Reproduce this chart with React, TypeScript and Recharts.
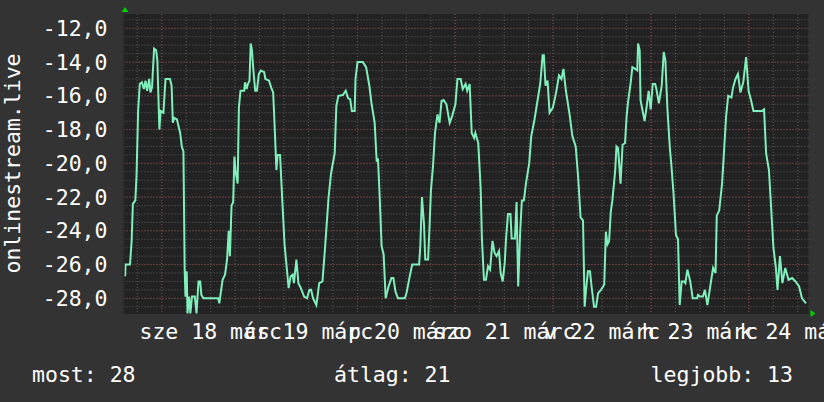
import React from 'react';
import { LineChart, Line, XAxis, YAxis, CartesianGrid, ReferenceDot } from 'recharts';

// hours since the start of the 7-day window, and the rank (stored negative so #1 is on top)
const hours = [
  0.4, 0.5, 1.6, 2.0, 2.3, 2.9, 3.2, 3.6, 4.0, 4.5,
  5.0, 5.4, 5.8, 6.3, 6.6, 7.0, 7.5, 8.0, 8.3, 8.8,
  9.1, 9.8, 10.3, 11.4, 11.8, 12.1, 12.4, 13.1, 13.9, 14.3,
  14.7, 15.0, 15.2, 15.5, 15.7, 16.1, 16.4, 16.8, 17.5, 17.9,
  18.4, 18.8, 19.1, 19.6, 23.2, 23.5, 24.3, 24.9, 25.4, 25.8,
  26.1, 26.5, 26.9, 27.2, 27.5, 28.0, 28.3, 28.7, 29.6, 29.8,
  30.2, 30.5, 30.9, 31.2, 31.5, 31.9, 32.3, 32.7, 33.2, 33.7,
  34.5, 34.8, 35.7, 36.2, 36.7, 37.0, 37.5, 37.8, 38.4, 38.9,
  39.5, 40.0, 40.5, 41.0, 41.5, 41.8, 42.4, 42.9, 43.5, 44.3,
  45.0, 45.6, 46.0, 46.5, 47.3, 48.0, 48.8, 49.4, 50.3, 50.9,
  51.8, 52.2, 52.7, 53.8, 54.5, 55.1, 55.6, 56.0, 56.7, 56.9,
  57.4, 58.7, 59.5, 60.3, 60.8, 61.6, 62.1, 62.4, 62.8, 63.3,
  63.8, 64.3, 65.0, 65.7, 66.2, 66.7, 67.3, 69.0, 69.4, 70.2,
  70.8, 72.5, 72.8, 73.2, 73.7, 74.0, 74.7, 75.1, 75.4, 75.9,
  76.4, 77.0, 77.5, 78.0, 78.5, 79.2, 80.0, 80.6, 81.4, 81.9,
  82.7, 83.2, 83.9, 84.3, 84.9, 85.4, 86.0, 86.3, 87.0, 87.6,
  87.9, 88.4, 88.9, 89.4, 89.9, 90.5, 91.0, 91.5, 92.1, 92.5,
  93.0, 93.5, 93.8, 94.3, 94.9, 95.2, 96.0, 96.4, 96.8, 97.3,
  97.7, 98.2, 98.7, 99.5, 100.0, 100.8, 101.4, 102.2, 102.8, 103.1,
  103.5, 104.0, 104.5, 105.3, 106.1, 106.8, 107.4, 107.9, 108.5, 109.4,
  110.1, 110.9, 111.5, 112.1, 112.7, 113.1, 113.4, 113.9, 114.4, 114.8,
  115.4, 115.9, 116.4, 117.1, 117.9, 118.3, 118.7, 119.1, 119.5, 119.9,
  120.6, 120.9, 121.3, 121.9, 122.4, 123.0, 123.4, 123.7, 124.4, 124.8,
  125.5, 126.0, 126.2, 126.6, 126.8, 127.4, 127.8, 128.3, 128.8, 129.3,
  129.8, 130.4, 130.7, 131.3, 132.0, 132.5, 132.9, 133.4, 134.0, 134.4,
  134.9, 135.5, 136.0, 136.4, 136.9, 137.5, 137.8, 138.3, 139.0, 139.6,
  140.7, 140.9, 141.4, 142.1, 142.6, 143.2, 143.9, 144.6, 145.2, 145.5,
  146.1, 146.8, 147.2, 147.8, 148.3, 149.1, 149.5, 150.1, 150.7, 151.3,
  152.0, 152.7, 153.3, 153.9, 154.5, 156.6, 157.1, 157.6, 158.3, 158.9,
  159.4, 160.0, 160.4, 161.0, 161.6, 162.3, 163.1, 164.0, 164.8, 165.7,
  166.4, 167.4,
];

const ranks = [
  -26.7, -26.0, -26.0, -24.6, -22.4, -22.2, -20.7, -16.8, -15.3, -15.2,
  -15.6, -15.1, -15.7, -15.0, -15.8, -15.5, -13.2, -13.3, -13.9, -18.0,
  -16.9, -17.0, -15.0, -15.0, -15.4, -17.6, -17.3, -17.4, -18.2, -19.0,
  -19.3, -26.3, -27.9, -26.4, -28.9, -27.9, -28.9, -27.9, -27.9, -28.9,
  -27.0, -27.0, -27.8, -28.0, -28.0, -28.3, -26.9, -26.6, -25.7, -24.0,
  -25.5, -22.5, -22.3, -19.6, -20.5, -21.2, -16.7, -15.7, -15.7, -15.2,
  -15.6, -15.3, -15.1, -12.9, -13.3, -14.6, -15.7, -15.7, -14.7, -14.5,
  -14.6, -15.0, -15.1, -15.5, -15.8, -17.4, -20.4, -19.5, -19.5, -22.0,
  -24.8, -26.1, -27.4, -26.7, -26.6, -27.1, -25.7, -27.1, -27.4, -27.9,
  -28.0, -27.5, -27.5, -28.0, -28.4, -27.1, -27.0, -25.1, -22.0, -20.6,
  -19.4, -16.6, -16.0, -15.95, -15.7, -16.15, -16.2, -16.9, -16.9, -15.0,
  -14.0, -14.0, -14.3, -15.4, -16.4, -17.6, -19.9, -19.7, -21.8, -24.9,
  -25.4, -28.0, -27.3, -26.8, -26.8, -27.6, -28.0, -28.0, -27.7, -26.7,
  -26.0, -26.0, -24.9, -22.0, -23.6, -25.7, -25.7, -23.5, -21.6, -20.2,
  -18.2, -17.1, -17.6, -16.3, -16.25, -16.5, -17.6, -17.2, -16.5, -15.0,
  -15.0, -15.6, -15.3, -15.7, -15.3, -18.2, -18.5, -18.2, -18.8, -21.5,
  -24.45, -26.9, -26.9, -26.1, -26.3, -24.6, -25.3, -25.5, -25.2, -26.5,
  -27.0, -25.9, -24.55, -23.0, -23.0, -24.45, -24.45, -22.3, -27.3, -24.0,
  -22.2, -22.2, -21.2, -20.0, -18.4, -17.4, -16.5, -15.3, -13.6, -13.6,
  -15.4, -15.1, -17.0, -16.7, -15.8, -14.8, -15.0, -14.4, -15.7, -17.1,
  -18.4, -19.0, -20.8, -23.2, -23.4, -28.5, -27.6, -26.4, -26.4, -27.3,
  -28.5, -28.5, -27.7, -27.5, -27.2, -24.05, -24.8, -24.6, -22.9, -22.2,
  -20.4, -19.0, -19.1, -21.2, -18.9, -18.8, -17.2, -16.45, -15.2, -14.3,
  -14.4, -14.5, -12.9, -13.3, -16.25, -17.0, -17.5, -16.65, -15.7, -16.8,
  -15.3, -15.3, -15.6, -16.45, -15.4, -13.4, -13.9, -16.8, -19.1, -20.2,
  -21.8, -24.25, -24.5, -28.4, -27.0, -27.0, -27.1, -26.3, -27.0, -28.0,
  -28.0, -27.8, -27.9, -27.9, -27.5, -28.4, -27.3, -26.2, -26.5, -23.1,
  -22.8, -21.2, -19.6, -17.2, -16.0, -16.1, -15.5, -15.0, -14.7, -15.8,
  -15.2, -13.7, -15.7, -16.25, -16.9, -16.9, -16.8, -19.4, -20.4, -22.9,
  -25.0, -26.2, -27.5, -25.5, -27.1, -26.2, -26.9, -26.8, -27.0, -27.3,
  -28.0, -28.3,
];

// day labels as the Hungarian locale writes them ("%a %d %b"), centred at noon
const dayLabels = [
  'sze 18 márc', 'cs 19 márc', 'p 20 márc', 'szo 21 márc',
  'v 22 márc', 'h 23 márc', 'k 24 márc',
];
const firstMidnight = 9.37; // midnight of the 18th, in hours after window start
const rankTicks = [-12, -14, -16, -18, -20, -22, -24, -26, -28];
const yTitle = 'onlinestream.live';
const nowText = 'most: 28';
const avgText = 'átlag: 21';
const bestText = 'legjobb: 13';

const W = 824;
const H = 402;
const FONT = '"DejaVu Sans Mono", monospace';
const FS = 21.5;
const yDomain: [number, number] = [-28.93, -11.15];
const xDomain: [number, number] = [0, 168];

const data = hours.map((h, i) => ({ h, rank: ranks[i] })).filter((d) => d.rank !== undefined);

// grid lines: minor every 0.5 rank / 6 hours, major every 2 ranks / 24 hours
const minorY: number[] = [];
for (let v = -28.5; v <= -11.5; v += 0.5) minorY.push(v);
const minorX: number[] = [];
for (let t = firstMidnight - 6; t < 168; t += 6) minorX.push(t);
const majorX = dayLabels.map((_, i) => firstMidnight + 24 * i);
const labelX = dayLabels.map((_, i) => firstMidnight + 12 + 24 * i);

const YTick = ({ x, y, payload }: any) => (
  <text x={x} y={y} textAnchor="end" dominantBaseline="central" fill="#fff" fontSize={FS} fontFamily={FONT}>
    {payload.value.toFixed(1).replace('.', ',')}
  </text>
);

const XTick = ({ x, y, index }: any) => (
  <text x={x} y={y + 25} textAnchor="middle" fill="#fff" fontSize={FS} fontFamily={FONT}>
    {dayLabels[index] ?? ''}
  </text>
);

const UpArrow = ({ cx, cy }: any) => (
  <path d={`M${cx - 2} ${cy - 2} L${cx + 5} ${cy - 2} L${cx + 1.5} ${cy - 7} Z`} fill="#00d000" />
);

const RightArrow = ({ cx, cy }: any) => (
  <path d={`M${cx + 2} ${cy - 4} L${cx + 2} ${cy + 3} L${cx + 7} ${cy - 0.5} Z`} fill="#00d000" />
);

export default function App() {
  return (
    <div style={{ position: 'absolute', left: 0, top: 0, width: W, height: H, background: '#333' }}>
      <LineChart
        width={W}
        height={H}
        data={data}
        margin={{ top: 14, right: 15.5, bottom: 58, left: 13.5 }}
      >
        <CartesianGrid
          fill="#222"
          stroke="#5a5a5a"
          strokeDasharray="1 2"
          horizontalValues={minorY}
          verticalValues={minorX}
        />
        <CartesianGrid
          stroke="#8a3c3c"
          strokeDasharray="1 2"
          horizontalValues={rankTicks}
          verticalValues={majorX}
        />
        <XAxis
          dataKey="h"
          type="number"
          domain={xDomain}
          ticks={labelX}
          interval={0}
          height={30}
          tick={<XTick />}
          tickLine={false}
          tickSize={0}
          tickMargin={0}
          axisLine={false}
          allowDataOverflow
        />
        <YAxis
          type="number"
          domain={yDomain}
          ticks={rankTicks}
          interval={0}
          width={110}
          tick={<YTick />}
          tickLine={false}
          tickSize={0}
          tickMargin={16}
          axisLine={{ stroke: '#2c2c2c', strokeWidth: 2 }}
          allowDataOverflow
        />
        <Line
          type="linear"
          dataKey="rank"
          stroke="#7ff0bc"
          strokeWidth={2}
          dot={false}
          activeDot={false}
          isAnimationActive={false}
        />
        <ReferenceDot x={0} y={yDomain[1]} r={0} shape={<UpArrow />} ifOverflow="visible" />
        <ReferenceDot x={168} y={yDomain[0]} r={0} shape={<RightArrow />} ifOverflow="visible" />
      </LineChart>
      <svg width={W} height={H} style={{ position: 'absolute', left: 0, top: 0, pointerEvents: 'none' }}>
        <text
          x={12.5}
          y={163.5}
          transform="rotate(-90 12.5 163.5)"
          textAnchor="middle"
          dominantBaseline="central"
          fill="#fff"
          fontSize={FS}
          fontFamily={FONT}
        >
          {yTitle}
        </text>
        <text x={32} y={382} fill="#fff" fontSize={FS} fontFamily={FONT}>{nowText}</text>
        <text x={334} y={382} fill="#fff" fontSize={FS} fontFamily={FONT}>{avgText}</text>
        <text x={793} y={382} textAnchor="end" fill="#fff" fontSize={FS} fontFamily={FONT}>{bestText}</text>
      </svg>
    </div>
  );
}
